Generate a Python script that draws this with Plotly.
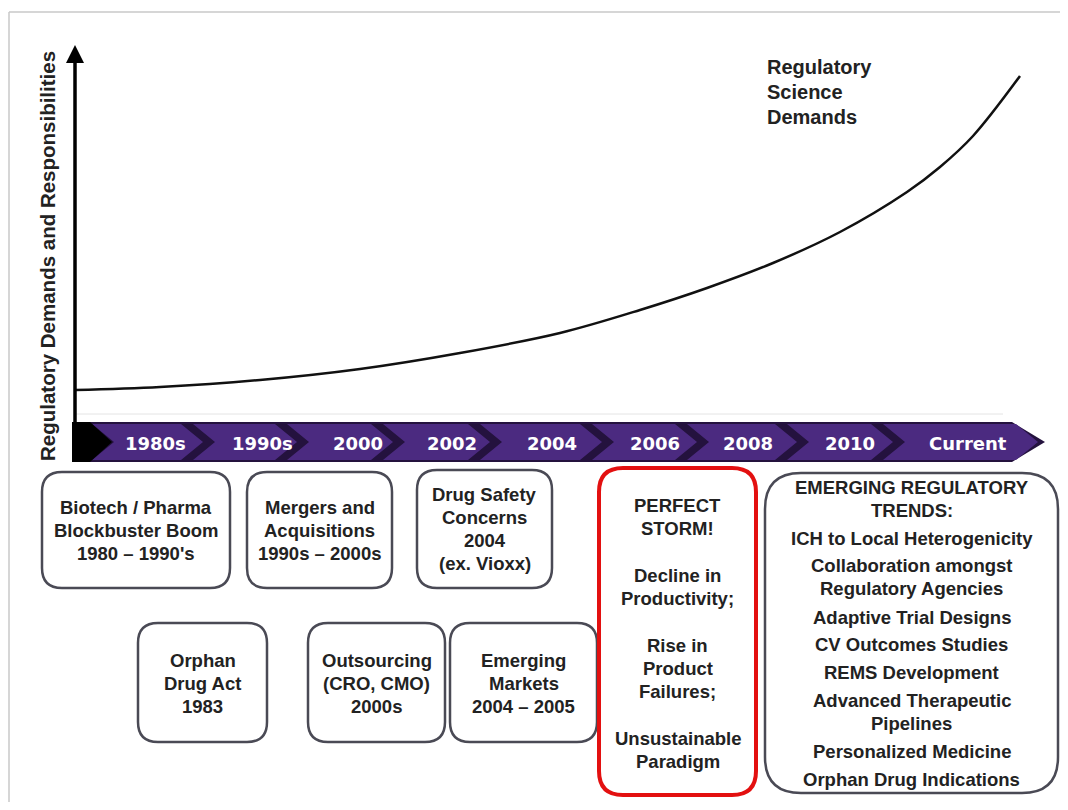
import plotly.graph_objects as go

# ---------------- data ----------------
timeline_labels = ["1980s", "1990s", "2000", "2002", "2004", "2006", "2008", "2010", "Current"]

curve_x = [75, 160, 260, 360, 460, 560, 640, 707, 773, 840, 907, 940, 973, 1020]
curve_y = [390, 387, 380, 369, 353, 333, 310, 288, 263, 232, 192, 167, 136, 76]

curve_label = ["Regulatory", "Science", "Demands"]
y_axis_title = "Regulatory Demands and Responsibilities"

box_texts = [
    ["Biotech / Pharma", "Blockbuster Boom", "1980 – 1990's"],
    ["Mergers and", "Acquisitions", "1990s – 2000s"],
    ["Drug Safety", "Concerns", "2004", "(ex. Vioxx)"],
    ["Orphan", "Drug Act", "1983"],
    ["Outsourcing", "(CRO, CMO)", "2000s"],
    ["Emerging", "Markets", "2004 – 2005"],
]
storm_items = [["PERFECT", "STORM!"], ["Decline in", "Productivity;"],
               ["Rise in", "Product", "Failures;"], ["Unsustainable", "Paradigm"]]
trend_items = [["EMERGING REGULATORY", "TRENDS:"], ["ICH to Local Heterogenicity"],
               ["Collaboration amongst", "Regulatory Agencies"], ["Adaptive Trial Designs"],
               ["CV Outcomes Studies"], ["REMS Development"],
               ["Advanced Therapeutic", "Pipelines"], ["Personalized Medicine"],
               ["Orphan Drug Indications"]]

# ---------------- layout geometry (page pixel coordinates) ----------------
label_cx = [155, 262, 358, 452, 552, 655, 748, 850, 968]
chev_tips = [203, 297, 393, 490, 602, 697, 797, 893, 1038]
BAR_T, BAR_B = 422, 462
BAR_M = (BAR_T + BAR_B) / 2

box_rects = [(42, 472, 230, 588), (247, 472, 392, 588), (417, 470, 552, 588),
             (138, 623, 267, 742), (308, 623, 445, 742), (450, 623, 597, 742)]
box_first_line = [507, 507, 494, 660, 660, 660]
storm_rect = (599, 468, 756, 795)
storm_first = [505, 575, 645, 738]
trend_rect = (765, 473, 1058, 793)
trend_first = [487, 538, 565, 617, 644, 672, 700, 751, 779]

LH = 23
FONT = "Liberation Sans"
TXT = "#222222"
BOX_FS = 18.5

fig = go.Figure()
shapes = []
ann = []


def rrect(x0, y0, x1, y1, r):
    return (f"M{x0+r},{y0} L{x1-r},{y0} Q{x1},{y0} {x1},{y0+r} L{x1},{y1-r} "
            f"Q{x1},{y1} {x1-r},{y1} L{x0+r},{y1} Q{x0},{y1} {x0},{y1-r} "
            f"L{x0},{y0+r} Q{x0},{y0} {x0+r},{y0} Z")


# frame
shapes.append(dict(type="line", x0=9, y0=12, x1=1068, y1=12, line=dict(color="#c8c8c8", width=1.5)))
shapes.append(dict(type="line", x0=9, y0=12, x1=9, y1=810, line=dict(color="#c8c8c8", width=1.5)))
# faint baseline
shapes.append(dict(type="line", x0=75, y0=414, x1=1003, y1=414, line=dict(color="#e4e4e4", width=1)))

# timeline bar
shapes.append(dict(type="path",
                   path=f"M75,{BAR_T} L1012,{BAR_T} L1045,{BAR_M} L1012,{BAR_B} L75,{BAR_B} Z",
                   fillcolor="#24123e", line=dict(width=0)))
d = 22
prev = 100
for i, t in enumerate(chev_tips):
    s = prev - d + 12 if i > 0 else 92
    notch = s + d
    shapes.append(dict(type="path",
                       path=(f"M{s},{BAR_T+2} L{t-d},{BAR_T+2} L{t},{BAR_M} L{t-d},{BAR_B-2} "
                             f"L{s},{BAR_B-2} L{notch},{BAR_M} Z"),
                       fillcolor="#4b2a80", line=dict(width=0)))
    prev = t
# black start triangle
shapes.append(dict(type="path", path=f"M72,{BAR_T} L90,{BAR_T} L112,{BAR_M} L90,{BAR_B} L72,{BAR_B} Z",
                   fillcolor="#000000", line=dict(width=0)))

for lab, cx in zip(timeline_labels, label_cx):
    ann.append(dict(x=cx, y=BAR_M + 1, text=lab, showarrow=False, xanchor="center", yanchor="middle",
                    font=dict(family="DejaVu Sans", size=18, color="white", weight="bold")))

# y axis arrow
shapes.append(dict(type="line", x0=75, y0=58, x1=75, y1=BAR_B, line=dict(color="black", width=3.5)))
shapes.append(dict(type="path", path="M75,45 L84,63 L66,63 Z", fillcolor="black", line=dict(width=0)))
ann.append(dict(x=47, y=256, text=y_axis_title, textangle=-90, showarrow=False,
                xanchor="center", yanchor="middle",
                font=dict(family=FONT, size=20.5, color=TXT, weight="bold")))

# curve
fig.add_trace(go.Scatter(x=curve_x, y=curve_y, mode="lines",
                         line=dict(color="#111111", width=2.5, shape="spline", smoothing=1.0),
                         hoverinfo="skip", showlegend=False))
for i, t in enumerate(curve_label):
    ann.append(dict(x=765, y=67 + i * 25, text=t, showarrow=False, xanchor="left", yanchor="middle",
                    font=dict(family=FONT, size=20, color=TXT, weight="bold")))

# boxes
for rect, lines, y0 in zip(box_rects, box_texts, box_first_line):
    x0, ya, x1, yb = rect
    shapes.append(dict(type="path", path=rrect(x0, ya, x1, yb, 20), fillcolor="white",
                       line=dict(color="#4a4a55", width=2.5)))
    cx = (x0 + x1) / 2
    for j, t in enumerate(lines):
        ann.append(dict(x=cx, y=y0 + j * LH, text=t, showarrow=False, xanchor="center", yanchor="middle",
                        font=dict(family=FONT, size=BOX_FS, color=TXT, weight="bold")))

# perfect storm
x0, ya, x1, yb = storm_rect
shapes.append(dict(type="path", path=rrect(x0, ya, x1, yb, 24), fillcolor="white",
                   line=dict(color="#e31010", width=4)))
cx = (x0 + x1) / 2
for item, y0 in zip(storm_items, storm_first):
    for j, t in enumerate(item):
        ann.append(dict(x=cx, y=y0 + j * LH, text=t, showarrow=False, xanchor="center", yanchor="middle",
                        font=dict(family=FONT, size=BOX_FS, color=TXT, weight="bold")))

# emerging trends
x0, ya, x1, yb = trend_rect
shapes.append(dict(type="path", path=rrect(x0, ya, x1, yb, 36), fillcolor="white",
                   line=dict(color="#4a4a55", width=2.5)))
cx = (x0 + x1) / 2
for item, y0 in zip(trend_items, trend_first):
    for j, t in enumerate(item):
        ann.append(dict(x=cx, y=y0 + j * LH, text=t, showarrow=False, xanchor="center", yanchor="middle",
                        font=dict(family=FONT, size=BOX_FS, color=TXT, weight="bold")))

# the page body has an 8px margin: map data units 1:1 onto page pixels
fig.update_layout(
    width=1052, height=794, margin=dict(l=0, r=0, t=0, b=0),
    paper_bgcolor="white", plot_bgcolor="white",
    xaxis=dict(range=[8, 1060], visible=False, fixedrange=True),
    yaxis=dict(range=[802, 8], visible=False, fixedrange=True),
    shapes=shapes, annotations=ann, showlegend=False,
)
fig.write_html("out.html")
